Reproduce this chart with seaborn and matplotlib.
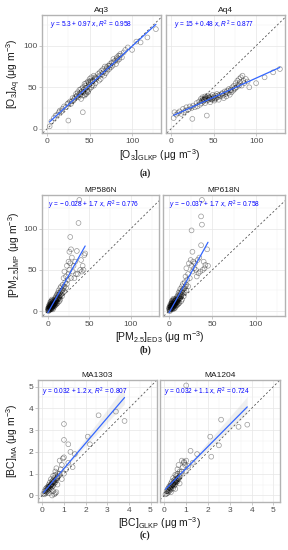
import numpy as np
import pandas as pd
import matplotlib
matplotlib.use("Agg")
import matplotlib.pyplot as plt
import seaborn as sns

# ---- data ----
aq3_x = [3, 5, 8, 10, 12, 14, 15, 17, 18, 20, 22, 24, 25, 27, 28, 30, 31, 33, 34, 35, 36, 37, 38, 39, 40, 40,
         41, 42, 42, 43, 44, 45, 45, 46, 47, 48, 48, 49, 50, 50, 51, 52, 53, 54, 55, 55, 56, 57, 58, 60, 61, 62,
         63, 64, 65, 66, 67, 68, 69, 70, 71, 72, 73, 74, 75, 76, 77, 78, 80, 81, 82, 83, 84, 85, 86, 88, 90, 92,
         95, 100, 105, 110, 118, 128, 25, 42, 44, 46, 48, 52, 47, 43, 45, 49, 51, 53, 56, 58, 62, 66, 70, 74,
         78, 82, 86, 38, 40, 35, 32, 29]
aq3_y = [3, 9, 13, 16, 17, 20, 22, 21, 24, 27, 26, 30, 31, 33, 30, 37, 34, 38, 42, 40, 44, 38, 47, 41, 48, 36,
         45, 50, 40, 47, 54, 49, 42, 55, 50, 57, 44, 53, 60, 48, 56, 62, 52, 58, 64, 52, 60, 55, 62, 66, 58, 68,
         60, 70, 66, 72, 64, 75, 67, 74, 70, 76, 72, 78, 74, 80, 76, 84, 82, 78, 86, 82, 88, 84, 90, 86, 92, 95,
         98, 95, 105, 104, 110, 120, 10, 20, 40, 42, 45, 50, 46, 44, 52, 56, 58, 57, 62, 60, 64, 68, 72, 76,
         80, 84, 88, 42, 44, 39, 36, 33]

aq4_x = [3, 4, 6, 8, 10, 12, 14, 15, 17, 18, 20, 22, 24, 25, 26, 28, 30, 31, 33, 34, 35, 36, 37, 38, 39, 40, 40,
         41, 42, 42, 43, 44, 45, 46, 47, 48, 49, 50, 51, 52, 53, 54, 55, 56, 57, 58, 60, 61, 62, 63, 64, 65, 66,
         67, 68, 69, 70, 71, 72, 73, 74, 75, 76, 77, 78, 79, 80, 81, 82, 83, 84, 85, 86, 88, 90, 92, 100, 110,
         120, 128, 38, 40, 44, 46, 50, 52, 36, 39, 42, 45, 48, 55, 60, 65, 70, 75, 80]
aq4_y = [13, 20, 17, 19, 21, 18, 24, 20, 22, 26, 23, 27, 25, 12, 28, 26, 31, 27, 33, 29, 36, 31, 38, 33, 35, 39,
         31, 36, 16, 34, 40, 35, 37, 32, 39, 36, 41, 37, 34, 40, 37, 42, 38, 35, 41, 39, 43, 40, 37, 45, 42, 39,
         46, 43, 48, 41, 47, 44, 50, 46, 52, 48, 55, 50, 58, 53, 60, 56, 62, 52, 64, 58, 55, 60, 57, 50, 55, 62,
         68, 72, 36, 37, 38, 36, 38, 36, 34, 35, 37, 38, 35, 40, 42, 44, 46, 49, 52]

mp586_x = [0, 0, 1, 1, 1, 1, 2, 2, 2, 2, 3, 3, 3, 3, 4, 4, 4, 4, 5, 5, 5, 5, 6, 6, 6, 6, 7, 7, 7, 8, 8, 8, 9, 9,
           9, 10, 10, 10, 11, 11, 11, 12, 12, 12, 13, 13, 14, 14, 15, 15, 15, 16, 16, 17, 17, 18, 18, 19, 19,
           20, 20, 20, 21, 22, 22, 23, 23, 24, 25, 25, 26, 26, 27, 27, 28, 28, 29, 30, 31, 33, 35, 37, 38, 40,
           42, 44, 45, 43, 36, 2, 3, 4, 5, 6, 7, 8, 3, 4, 5,
           1, 2, 3, 4, 5, 6, 7, 8, 9, 10, 11, 12, 13, 14, 15, 2, 3, 4, 5, 6, 7, 8, 9, 10, 11, 12, 13, 14, 16,
           18, 1, 2, 3, 4, 5, 6, 7, 8, 9, 10, 32, 34, 39, 41]
mp586_y = [1, 3, 2, 4, 0, 6, 3, 6, 1, 8, 5, 3, 8, 11, 4, 7, 10, 2, 5, 8, 3, 12, 6, 10, 13, 2, 7, 11, 4, 9, 14, 6,
           10, 16, 7, 12, 18, 8, 14, 20, 9, 15, 22, 10, 17, 25, 19, 12, 22, 28, 14, 20, 30, 25, 18, 32, 22, 28,
           40, 30, 24, 48, 35, 42, 28, 55, 33, 38, 60, 45, 72, 50, 90, 58, 75, 40, 65, 48, 55, 60, 73, 107, 135,
           62, 55, 68, 70, 50, 45, 5, 6, 6, 7, 8, 9, 10, 9, 12, 14,
           1, 2, 4, 5, 6, 7, 8, 10, 11, 13, 12, 14, 15, 16, 18, 4, 6, 8, 9, 11, 12, 12, 13, 15, 16, 18, 20, 22,
           24, 26, 3, 5, 2, 3, 4, 5, 6, 8, 9, 10, 40, 45, 50, 48]

mp618_x = [0, 0, 1, 1, 1, 1, 2, 2, 2, 2, 3, 3, 3, 3, 4, 4, 4, 4, 5, 5, 5, 5, 6, 6, 6, 6, 7, 7, 7, 8, 8, 8, 9, 9,
           9, 10, 10, 10, 11, 11, 11, 12, 12, 12, 13, 13, 14, 14, 15, 15, 15, 16, 16, 17, 17, 18, 18, 19, 19,
           20, 20, 20, 21, 22, 22, 23, 24, 25, 26, 26, 27, 27, 28, 29, 30, 31, 33, 35, 37, 37, 38, 38, 40, 42,
           44, 45, 36, 2, 3, 4, 5, 6, 7, 8, 3, 4, 5,
           1, 2, 3, 4, 5, 6, 7, 8, 9, 10, 11, 12, 13, 14, 15, 2, 3, 4, 5, 6, 7, 8, 9, 10, 11, 12, 13, 14, 16,
           18, 1, 2, 3, 4, 5, 6, 7, 8, 9, 10, 32, 34, 39, 41]
mp618_y = [2, 4, 1, 5, 0, 7, 3, 6, 2, 9, 5, 3, 9, 12, 4, 8, 11, 2, 6, 9, 3, 13, 7, 11, 14, 3, 8, 12, 4, 10, 15, 6,
           11, 17, 7, 13, 19, 8, 15, 22, 9, 16, 24, 10, 18, 27, 20, 12, 24, 30, 14, 22, 33, 27, 18, 35, 23, 30,
           42, 32, 25, 52, 38, 45, 30, 58, 40, 62, 98, 55, 72, 48, 60, 52, 58, 50, 62, 65, 115, 80, 135, 105, 60,
           56, 75, 55, 48, 6, 7, 7, 8, 9, 10, 11, 10, 13, 15,
           2, 3, 4, 6, 7, 8, 9, 11, 12, 14, 13, 15, 16, 18, 20, 5, 7, 9, 10, 12, 13, 13, 14, 16, 17, 19, 21, 23,
           26, 28, 4, 6, 3, 4, 5, 6, 7, 9, 10, 11, 42, 46, 50, 52]

ma1303_x = [0.05, 0.1, 0.1, 0.15, 0.15, 0.2, 0.2, 0.25, 0.25, 0.3, 0.3, 0.3, 0.35, 0.35, 0.4, 0.4, 0.4, 0.45,
            0.45, 0.5, 0.5, 0.5, 0.5, 0.55, 0.55, 0.6, 0.6, 0.6, 0.65, 0.65, 0.7, 0.7, 0.7, 0.75, 0.8, 0.8, 0.85,
            0.9, 0.95, 1.0, 1.0, 0.45, 0.55, 0.6, 0.65, 1.1, 1.2, 1.0, 1.0, 1.2, 2.6, 3.4, 3.8, 2.1, 2.2, 1.3,
            1.4, 0.9, 1.5, 0.3, 0.4, 0.5, 0.35, 0.25, 0.45, 0.2, 0.3, 0.4, 0.5, 0.6, 0.7, 0.15, 0.25, 0.35,
            0.45, 0.55, 0.65]
ma1303_y = [0.08, 0.05, 0.2, 0.1, 0.3, 0.15, 0.35, 0.2, 0.4, 0.25, 0.5, 0.1, 0.35, 0.6, 0.3, 0.5, 0.75, 0.4,
            0.65, 0.45, 0.7, 0.9, 0.2, 0.55, 0.8, 0.6, 0.95, 1.1, 0.7, 1.25, 0.8, 1.0, 0.5, 0.9, 1.0, 1.6, 1.2,
            1.4, 1.7, 1.0, 1.75, 0.0, 0.05, 0.1, 0.15, 1.2, 1.5, 3.28, 2.55, 2.35, 3.68, 3.85, 3.42, 2.7, 2.35,
            2.0, 1.3, 0.75, 1.9, 0.4, 0.45, 0.6, 0.45, 0.3, 0.55, 0.25, 0.38, 0.48, 0.62, 0.72, 0.85, 0.2,
            0.3, 0.42, 0.52, 0.66, 0.78]

ma1204_x = [0.05, 0.1, 0.1, 0.15, 0.15, 0.2, 0.2, 0.25, 0.25, 0.3, 0.3, 0.3, 0.35, 0.35, 0.4, 0.4, 0.4, 0.45,
            0.45, 0.5, 0.5, 0.5, 0.5, 0.55, 0.55, 0.6, 0.6, 0.6, 0.65, 0.65, 0.7, 0.7, 0.7, 0.75, 0.8, 0.8, 0.85,
            0.9, 0.95, 1.0, 1.0, 0.9, 1.0, 1.2, 2.1, 2.15, 2.6, 3.4, 3.8, 1.5, 2.5, 1.1, 1.3, 0.3, 0.4, 0.5,
            0.35, 0.25, 0.45, 0.55, 0.6, 0.2, 0.3, 0.4, 0.5, 0.6, 0.7, 0.15, 0.25, 0.35, 0.45, 0.55, 0.65]
ma1204_y = [0.05, 0.08, 0.2, 0.12, 0.3, 0.18, 0.38, 0.22, 0.45, 0.28, 0.55, 0.15, 0.4, 0.65, 0.32, 0.55, 0.8,
            0.45, 0.7, 0.5, 0.75, 0.95, 0.3, 0.6, 0.9, 0.65, 1.0, 1.2, 0.75, 1.4, 0.85, 1.1, 0.55, 1.0, 1.1, 1.6,
            1.3, 1.5, 1.4, 1.1, 1.6, 1.55, 5.05, 2.05, 2.7, 1.78, 3.48, 3.15, 3.25, 1.9, 2.3, 1.35, 1.5, 0.45,
            0.5, 0.65, 0.5, 0.35, 0.6, 0.7, 0.8, 0.25, 0.4, 0.5, 0.62, 0.75, 0.88, 0.2, 0.32, 0.45, 0.55,
            0.68, 0.8]

titles = ["Aq3", "Aq4", "MP586N", "MP618N", "MA1303", "MA1204"]
equations = [
    r"$y$ = 5.3 + 0.97 $x$, $R^2$ = 0.958",
    r"$y$ = 15 + 0.48 $x$, $R^2$ = 0.877",
    r"$y$ = − 0.028 + 1.7 $x$, $R^2$ = 0.776",
    r"$y$ = − 0.037 + 1.7 $x$, $R^2$ = 0.758",
    r"$y$ = 0.032 + 1.2 $x$, $R^2$ = 0.807",
    r"$y$ = 0.032 + 1.1 $x$, $R^2$ = 0.724",
]
xlabels = [r"[O$_3$]$_{\rm GLKP}$ (μg m$^{-3}$)",
           r"[PM$_{2.5}$]$_{\rm ED3}$ (μg m$^{-3}$)",
           r"[BC]$_{\rm GLKP}$ (μg m$^{-3}$)"]
ylabels = [r"[O$_3$]$_{\rm Aq}$ (μg m$^{-3}$)",
           r"[PM$_{2.5}$]$_{\rm MP}$ (μg m$^{-3}$)",
           r"[BC]$_{\rm MA}$ (μg m$^{-3}$)"]
captions = ["(a)", "(b)", "(c)"]
major_ticks = [[0, 50, 100], [0, 50, 100], [0, 1, 2, 3, 4, 5]]
minor_ticks = [[25, 75, 125], [25, 75, 125], [0.5, 1.5, 2.5, 3.5, 4.5]]

panels = [(aq3_x, aq3_y), (aq4_x, aq4_y), (mp586_x, mp586_y), (mp618_x, mp618_y),
          (ma1303_x, ma1303_y), (ma1204_x, ma1204_y)]

# ---- layout (pixel boxes from the reference) ----
W, H = 288, 550
sns.set_theme(style="white")
plt.rcParams['font.family'] = ['Liberation Sans', 'DejaVu Sans']
plt.rcParams['mathtext.fontset'] = 'custom'
plt.rcParams['mathtext.rm'] = 'Liberation Sans'
plt.rcParams['mathtext.it'] = 'Liberation Sans:italic'

boxes = [(42, 15, 161, 133), (166, 15, 285, 133),
         (42, 195, 159, 316), (163, 195, 285, 316),
         (38, 380, 157, 502), (160, 380, 280, 502)]
xlims = [(-6, 134), (-6, 134), (-7, 134), (-7, 134), (-0.2, 5.3), (-0.2, 5.3)]
ylims = [(-5, 137), (-5, 137), (-6, 141), (-6, 141), (-0.3, 5.3), (-0.3, 5.3)]
eq_pos = [(4, 124), (4, 124), (0, 128), (0, 128), (0.0, 4.75), (0.0, 4.75)]

fig = plt.figure(figsize=(W / 100, H / 100), dpi=100)

for i, (x, y) in enumerate(panels):
    l, t, r, b = boxes[i]
    ax = fig.add_axes([l / W, 1 - b / H, (r - l) / W, (b - t) / H])
    row = i // 2
    df = pd.DataFrame({"x": x, "y": y})
    ax.axline((0, 0), slope=1, color="#555555", lw=0.6, ls=(0, (2.5, 2.5)), zorder=2)
    sns.scatterplot(data=df, x="x", y="y", ax=ax, marker="o", s=12, fc="none",
                    ec=(0, 0, 0, 0.4), linewidth=0.5, zorder=3)
    if row == 2:
        # grey confidence band of the smoother
        sns.regplot(data=df, x="x", y="y", ax=ax, scatter=False, ci=68, truncate=True,
                    color="#999999", line_kws={"lw": 0, "alpha": 0})
    sns.regplot(data=df, x="x", y="y", ax=ax, scatter=False, ci=None, truncate=True,
                color="#3366FF", line_kws={"lw": 0.9, "zorder": 4})
    ax.set_xlim(*xlims[i])
    ax.set_ylim(*ylims[i])
    ax.set_xticks(major_ticks[row])
    ax.set_yticks(major_ticks[row])
    ax.set_xticks(minor_ticks[row], minor=True)
    ax.set_yticks(minor_ticks[row], minor=True)
    ax.grid(which="major", color="#e6e6e6", lw=0.5)
    ax.grid(which="minor", color="#f0f0f0", lw=0.35)
    ax.set_axisbelow(True)
    for s in ax.spines.values():
        s.set_color("#b3b3b3")
        s.set_linewidth(1.0)
    ax.tick_params(which="major", length=2, width=0.5, color="#b3b3b3", labelsize=6,
                   labelcolor="#4d4d4d", pad=1.5, bottom=True, left=True)
    ax.tick_params(which="minor", length=0)
    if i % 2 == 1:
        ax.tick_params(labelleft=False, left=False)
    ax.set_xlabel("")
    ax.set_ylabel("")
    ax.set_title(titles[i], fontsize=6, color="#1a1a1a", pad=2.5)
    ax.text(eq_pos[i][0], eq_pos[i][1], equations[i], color="blue", fontsize=4.7,
            va="center", ha="left", zorder=5)

xlab_y = [155, 337, 523]
ylab_y = [74, 255, 441]
ylab_x = [14, 14, 12]
cap_y = [173, 350, 535]
for row in range(3):
    fig.text(160 / W, 1 - xlab_y[row] / H, xlabels[row], fontsize=7.5, color="#1a1a1a",
             ha="center", va="center")
    fig.text(ylab_x[row] / W, 1 - ylab_y[row] / H, ylabels[row], fontsize=7.5, color="#1a1a1a",
             ha="center", va="center", rotation=90)
    fig.text(145 / W, 1 - cap_y[row] / H, captions[row], fontsize=7, family="Liberation Serif",
             fontweight="bold", ha="center", va="center", color="#222222")

fig.savefig("out.png", dpi=100)
